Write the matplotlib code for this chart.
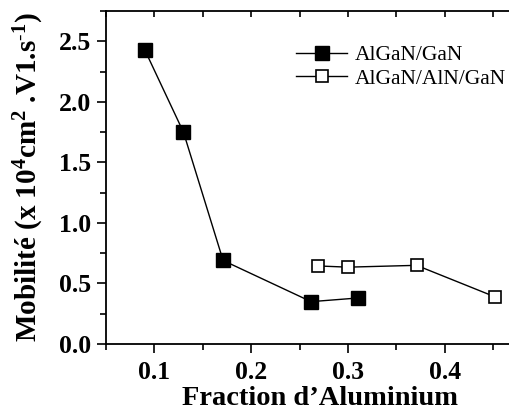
import matplotlib.pyplot as plt
from matplotlib.ticker import MultipleLocator

plt.rcParams['font.family'] = ['Liberation Serif', 'DejaVu Serif']
plt.rcParams['mathtext.default'] = 'regular'

# Hall mobility vs Al fraction
x_algan = [0.09, 0.13, 0.171, 0.262, 0.31]
y_algan = [2.43, 1.75, 0.69, 0.35, 0.38]

x_aln = [0.269, 0.30, 0.371, 0.452]
y_aln = [0.645, 0.635, 0.65, 0.39]

labels = ['AlGaN/GaN', 'AlGaN/AlN/GaN']

fig = plt.figure(figsize=(5.1, 4.12), dpi=100)
ax = fig.add_axes([0.208, 0.165, 0.806, 0.808])

ax.plot(x_algan, y_algan, '-s', color='black', lw=1.0, markersize=9.5,
        markerfacecolor='black', markeredgecolor='black', label=labels[0])
ax.plot(x_aln, y_aln, '-s', color='black', lw=1.0, markersize=8.5,
        markerfacecolor='white', markeredgecolor='black', markeredgewidth=1.2,
        label=labels[1], clip_on=False)

ax.set_xlim(0.05, 0.475)
ax.set_ylim(0, 2.75)
ax.xaxis.set_major_locator(MultipleLocator(0.1))
ax.xaxis.set_minor_locator(MultipleLocator(0.05))
ax.yaxis.set_major_locator(MultipleLocator(0.5))
ax.yaxis.set_minor_locator(MultipleLocator(0.25))
ax.xaxis.set_major_formatter(plt.FormatStrFormatter('%.1f'))
ax.yaxis.set_major_formatter(plt.FormatStrFormatter('%.1f'))

for s in ax.spines.values():
    s.set_linewidth(1.3)
ax.spines['right'].set_visible(False)

ax.tick_params(which='both', direction='out', width=1.2, labelsize=18.5)
ax.tick_params(which='major', length=6.5)
ax.tick_params(which='minor', length=4)
ax.tick_params(axis='x', pad=6)
ax.tick_params(axis='y', pad=4)
for lab in ax.get_xticklabels() + ax.get_yticklabels():
    lab.set_fontweight('bold')

# mirrored ticks on top and right, pointing inward
top = ax.secondary_xaxis('top')
top.xaxis.set_major_locator(MultipleLocator(0.05))
top.tick_params(direction='in', length=4, width=1.2, labeltop=False)
right = ax.secondary_yaxis('right')
right.yaxis.set_major_locator(MultipleLocator(0.5))
right.tick_params(direction='in', length=5, width=1.0, labelright=False,
                  color='0.6')
for sec in (top, right):
    for s in sec.spines.values():
        s.set_visible(False)

ax.set_xlabel("Fraction d\u2019Aluminium", fontsize=20.5, fontweight='bold')
ax.xaxis.set_label_coords(0.52, -0.125)
ax.set_ylabel('Mobilit\u00e9 (x 10$^4$cm$^2$ .V1.s$^{\u2011 1}$)', fontsize=21,
              fontweight='bold')
ax.yaxis.set_label_coords(-0.145, 0.5)

ax.legend(loc='upper left', bbox_to_anchor=(0.58, 0.89),
          bbox_transform=fig.transFigure, frameon=False, fontsize=15.5,
          handlelength=2.4, handletextpad=0.35, labelspacing=0.15,
          borderpad=0, borderaxespad=0)

fig.savefig('out.png', dpi=100)
